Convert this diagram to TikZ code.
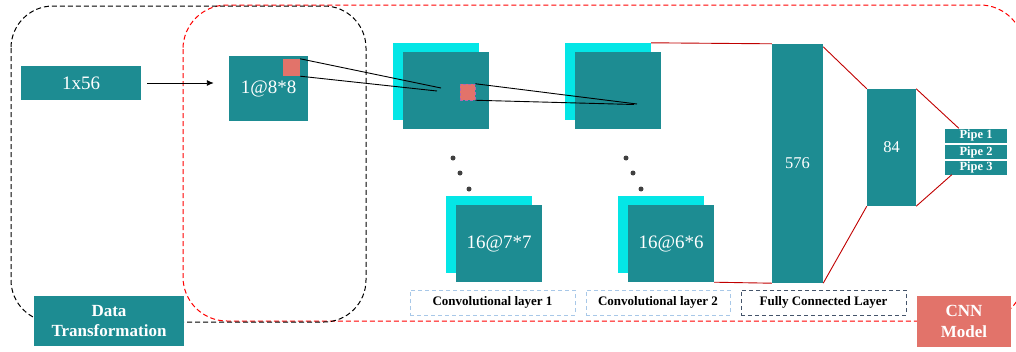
\documentclass[tikz,border=0pt]{standalone}
\usepackage{fontspec}
\setmainfont{Liberation Serif}
\usetikzlibrary{arrows.meta}

\definecolor{tealbox}{HTML}{1D8C92}
\definecolor{cyanbox}{HTML}{04E6E6}
\definecolor{salmon}{HTML}{E2736A}
\definecolor{fcred}{HTML}{C00000}
\definecolor{regionred}{HTML}{FF0000}
\definecolor{lblblue}{HTML}{A8C8E8}
\definecolor{lblgray}{HTML}{44546A}

\begin{document}
\begin{tikzpicture}[x=1pt, y=-1pt,
    blk/.style={fill=tealbox, text=white, inner sep=0pt},
    mapback/.style={fill=cyanbox, inner sep=0pt, minimum width=86pt, minimum height=77pt},
    mapfront/.style={blk, minimum width=86pt, minimum height=77pt, font=\fontsize{19}{19}\selectfont},
    patch/.style={fill=salmon, inner sep=0pt},
    lbl/.style={dashed, dash pattern=on 4pt off 3pt, line width=0.9pt, inner sep=0pt, minimum height=25pt, font=\bfseries\fontsize{13}{13}\selectfont},
    pipe/.style={blk, minimum width=62pt, minimum height=14pt, font=\bfseries\fontsize{12.5}{12.5}\selectfont},
    fcline/.style={draw=fcred, line width=0.9pt},
    region/.style={dashed, dash pattern=on 5pt off 3pt, line width=1pt}]
    \useasboundingbox (0,0) rectangle (1016,351);

    % regions
    \draw[region, draw=regionred, rounded corners=44pt] (183,5) rectangle (1024,321);
    \draw[region, draw=black, rounded corners=42pt] (11,6) rectangle (366,322);

    % input and reshaped image
    \node[blk, minimum width=120pt, minimum height=34pt, font=\fontsize{19}{19}\selectfont] (in) at (81,83) {1x56};
    \node[blk, minimum width=79pt, minimum height=65pt, font=\fontsize{19}{19}\selectfont] (img) at (268.5,88) {};
    \node[text=white, font=\fontsize{19}{19}\selectfont] (imgtxt) at (268.5,89) {1@8*8};
    \node[patch, minimum width=17pt, minimum height=17pt] (patch1) at (291.5,67.5) {};
    \draw[-{Latex[length=7pt, width=6pt]}, line width=0.9pt, shorten <=6pt, shorten >=15pt] (in.east) -- (img.west |- in.east);

    % convolutional layer 1
    \node[mapback] (c1back) at (436,81.5) {};
    \node[mapfront] (c1front) at (446,90.5) {};
    \node[mapback] (c1bback) at (489,234.5) {};
    \node[mapfront] (c1bfront) at (499,243.5) {16@7*7};
    \node[patch, draw=violet!60, densely dashed, line width=0.5pt, minimum width=15pt, minimum height=16pt] (patch2) at (467.5,92) {};

    % convolutional layer 2
    \node[mapback] (c2back) at (608,81.5) {};
    \node[mapfront] (c2front) at (618,90.5) {};
    \node[mapback] (c2bback) at (661,234.5) {};
    \node[mapfront] (c2bfront) at (671,243.5) {16@6*6};

    \foreach \x/\y in {453/158, 460/173, 469/189, 626/158, 633/173, 641/189}{
        \fill[black!75] (\x,\y) circle (2.5pt);
    }

    % receptive fields
    \coordinate (c1a) at (441,88);
    \coordinate (c1b) at (437,91);
    \coordinate (c2a) at (637,104);
    \coordinate (c2b) at (634,104.5);
    \draw[line width=0.9pt] (patch1.north east) -- (c1a);
    \draw[line width=0.9pt] (patch1.south east) -- (c1b);
    \draw[line width=0.9pt] (patch2.north east) -- (c2a);
    \draw[line width=0.9pt] (patch2.south east) -- (c2b);

    % fully connected
    \node[blk, minimum width=51pt, minimum height=239pt, font=\fontsize{16.5}{16.5}\selectfont] (fc) at (797.5,163.5) {576};
    \node[blk, minimum width=49pt, minimum height=117pt, font=\fontsize{16.5}{16.5}\selectfont] (h84) at (891.5,147.5) {84};
    \node[pipe] (pipe1) at (976,135.5) {Pipe 1};
    \node[pipe] (pipe2) at (976,152) {Pipe 2};
    \node[pipe] (pipe3) at (976,167.5) {Pipe 3};

    \draw[fcline] (c2back.north east) -- (fc.north west);
    \draw[fcline] (c2bfront.south east) -- (fc.south west);
    \draw[fcline] ([yshift=-3pt]fc.north east) -- (h84.north west);
    \draw[fcline] (fc.south east) -- (h84.south west);
    \draw[fcline] (h84.north east) -- ([xshift=14pt]pipe1.north west);
    \draw[fcline] (h84.south east) -- ([xshift=7pt]pipe3.south west);

    % labels
    \node[lbl, draw=lblblue, minimum width=165pt] (lbl1) at (492.5,302.5) {Convolutional layer 1};
    \node[lbl, draw=lblblue, minimum width=144pt] (lbl2) at (658,302.5) {Convolutional layer 2};
    \node[lbl, draw=lblgray, minimum width=165pt] (lbl3) at (823.5,302.5) {Fully Connected Layer};

    \node[blk, minimum width=150pt, minimum height=50pt, align=center, font=\bfseries\fontsize{17}{20}\selectfont] (data) at (109,321) {Data\\Transformation};
    \node[fill=salmon, text=white, inner sep=0pt, minimum width=94pt, minimum height=51pt, align=center, font=\bfseries\fontsize{17}{21}\selectfont] (cnn) at (964,321.5) {CNN\\Model};
\end{tikzpicture}
\end{document}
